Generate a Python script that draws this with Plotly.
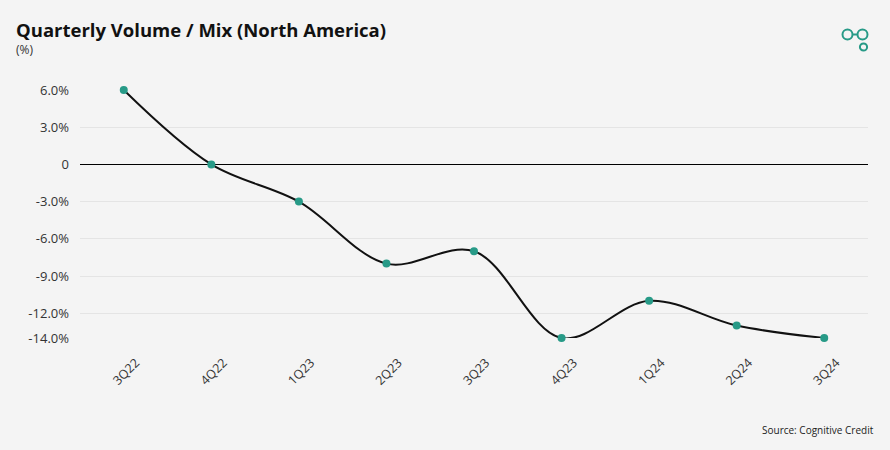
import plotly.graph_objects as go

quarters = ["3Q22", "4Q22", "1Q23", "2Q23", "3Q23", "4Q23", "1Q24", "2Q24", "3Q24"]
volume_mix = [6.0, 0.0, -3.0, -8.0, -7.0, -14.0, -11.0, -13.0, -14.0]
y_tick_vals = [6, 3, 0, -3, -6, -9, -12, -14]
y_tick_text = ["6.0%", "3.0%", "0", "-3.0%", "-6.0%", "-9.0%", "-12.0%", "-14.0%"]

W, H = 890, 450
L, R, T, B = 80, 22, 90, 112
PW, PH = W - L - R, H - T - B
TEAL = "#279a87"
BG = "#f4f4f4"

def px(x):
    return (x - L) / PW

def py(y):
    return (H - B - y) / PH

fig = go.Figure()
fig.add_trace(go.Scatter(
    x=quarters, y=volume_mix, mode="lines+markers",
    line=dict(color="#111111", width=2, shape="spline", smoothing=1.0),
    marker=dict(color=TEAL, size=8),
    cliponaxis=False, hoverinfo="x+y", showlegend=False,
))

fig.update_layout(
    width=W, height=H,
    margin=dict(l=L, r=R, t=T, b=B),
    paper_bgcolor=BG, plot_bgcolor=BG,
    font=dict(family="Open Sans", color="#333333", size=12),
    xaxis=dict(
        type="category", range=[-0.5, 8.5], showgrid=False, zeroline=False,
        showline=False, tickangle=-45, ticks="", ticklabelstandoff=14,
        ticklabelshift=12,
        tickfont=dict(size=12.5, color="#333333"),
    ),
    yaxis=dict(
        range=[-14, 6], tickvals=y_tick_vals, ticktext=y_tick_text,
        showgrid=True, gridcolor="#e4e4e4", gridwidth=1,
        zeroline=True, zerolinecolor="#000000", zerolinewidth=1,
        showline=False, ticks="", ticklabelstandoff=10,
        tickfont=dict(size=13, color="#333333"),
    ),
)

fig.add_annotation(
    text="<b>Quarterly Volume / Mix (North America)</b>",
    xref="paper", yref="paper", x=px(14), y=py(29), xanchor="left", yanchor="middle",
    showarrow=False, font=dict(family="Open Sans", size=18.5, color="#111111"),
)
fig.add_annotation(
    text="(%)", xref="paper", yref="paper", x=px(14), y=py(49),
    xanchor="left", yanchor="middle", showarrow=False,
    font=dict(family="Open Sans", size=12, color="#333333"),
)
fig.add_annotation(
    text="Source: Cognitive Credit", xref="paper", yref="paper", x=px(876), y=py(430),
    xanchor="right", yanchor="middle", showarrow=False,
    font=dict(family="Open Sans", size=10, color="#222222"),
)

# logo
def circle(cx, cy, r):
    fig.add_shape(type="circle", xref="paper", yref="paper",
                  x0=px(cx - r), x1=px(cx + r), y0=py(cy + r), y1=py(cy - r),
                  line=dict(color=TEAL, width=2), fillcolor="rgba(0,0,0,0)")

circle(847.5, 34.5, 5)
circle(862.5, 34.5, 5)
circle(863.5, 47, 3.6)
fig.add_shape(type="line", xref="paper", yref="paper",
              x0=px(852.5), x1=px(857.5), y0=py(34.5), y1=py(34.5),
              line=dict(color=TEAL, width=2))

fig.write_html(
    "out.html",
    config={"displayModeBar": False},
    post_script="document.body.style.margin='0';document.body.style.background='%s';" % BG,
)
